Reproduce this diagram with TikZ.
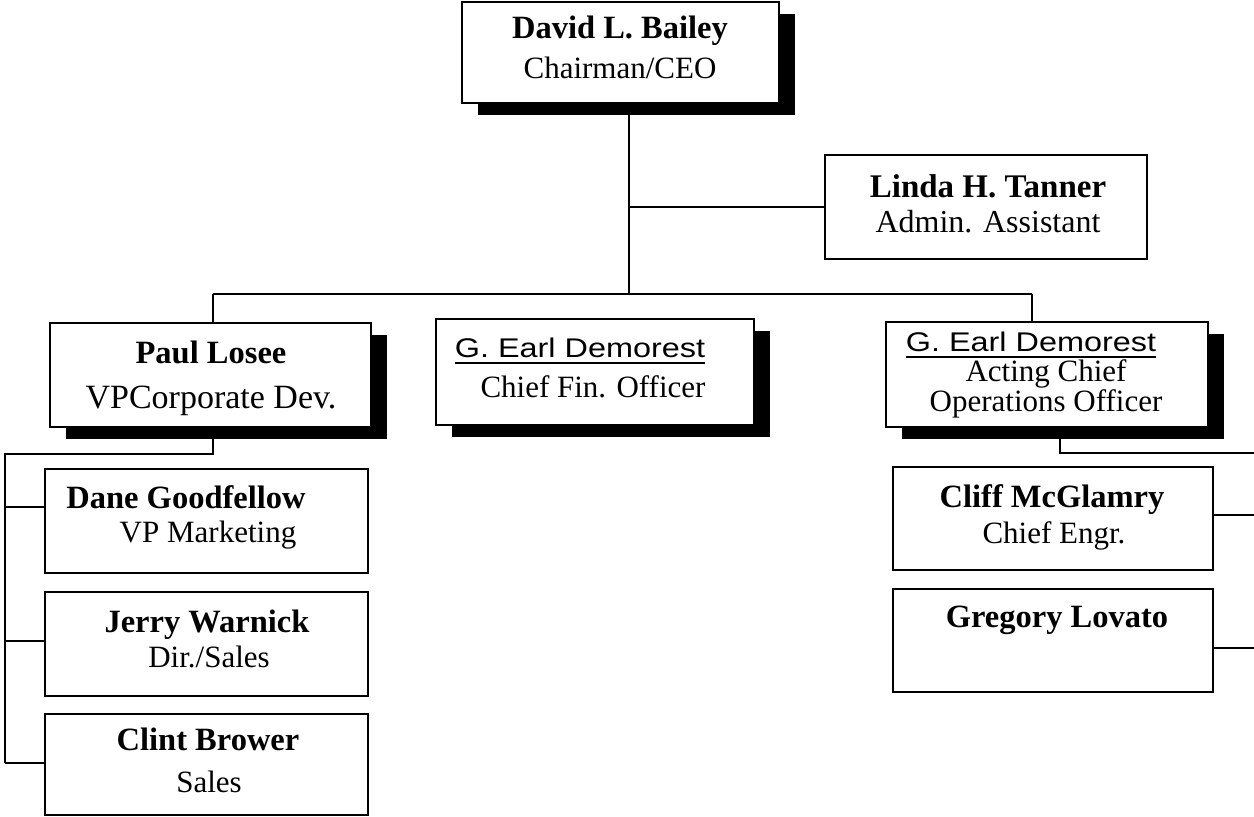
\documentclass[tikz,border=0pt]{standalone}
\usepackage{fontspec}
\usepackage{graphicx}
\setmainfont{Liberation Serif}
\newfontfamily\arialf{Liberation Sans}
\usetikzlibrary{shadows,backgrounds}
\begin{document}
\begin{tikzpicture}[x=1pt,y=-1pt,
  box/.style={draw=black, line width=1.3pt, fill=white, anchor=north west, inner sep=0pt, outer sep=0pt},
  shbox/.style={box, drop shadow={shadow xshift=16pt, shadow yshift=-12pt, fill=black, opacity=1}},
  nm/.style={anchor=base, inner sep=0pt, font=\fontsize{32.5}{32.5}\selectfont\bfseries},
  tl/.style={anchor=base, inner sep=0pt, font=\fontsize{31}{31}\selectfont},
  sn/.style={anchor=base, inner sep=0pt, font=\fontsize{27}{27}\selectfont\arialf},
  wire/.style={line width=1.3pt}]
\useasboundingbox (0,0) rectangle (1254,817);

% coordinates for connector bends and free ends
\coordinate (busL) at (213,294);
\coordinate (busR) at (1032,294);
\coordinate (busM) at (629,294);
\coordinate (pl) at (213,454);
\coordinate (lv) at (5,454);
\coordinate (dJ) at (5,507);
\coordinate (jJ) at (5,641);
\coordinate (cJ) at (5,763);
\coordinate (cr) at (1060,453);
\coordinate (re) at (1254,453);
\coordinate (ce) at (1254,515);
\coordinate (ge) at (1254,648);

% boxes
\node[shbox, minimum width=317pt, minimum height=101pt] (david) at (462,2) {};
\node[box, minimum width=322pt, minimum height=104pt] (linda) at (825,155) {};
\node[shbox, minimum width=321pt, minimum height=104pt] (paul) at (50,323) {};
\node[shbox, minimum width=318pt, minimum height=106pt] (cfo) at (436,319) {};
\node[shbox, minimum width=322pt, minimum height=105pt] (coo) at (886,322) {};
\node[box, minimum width=323pt, minimum height=104pt] (dane) at (45,469) {};
\node[box, minimum width=323pt, minimum height=104pt] (jerry) at (45,592) {};
\node[box, minimum width=323pt, minimum height=101pt] (clint) at (45,714) {};
\node[box, minimum width=320pt, minimum height=103pt] (cliff) at (893,467) {};
\node[box, minimum width=320pt, minimum height=103pt] (greg) at (893,589) {};

% connectors, behind the boxes
\begin{scope}[on background layer]
\fill[white] (0,0) rectangle (1254,817);
\draw[wire] (david.south -| busM) -- (busM);
\draw[wire] (linda.west -| busM) -- (linda.west);
\draw[wire] (busL) -- (busR);
\draw[wire] (busL) -- (paul.north -| busL);
\draw[wire] (busR) -- (coo.north -| busR);
\draw[wire] (paul.south -| pl) -- (pl) -- (lv) -- (cJ);
\draw[wire] (dJ) -- (dJ -| dane.west);
\draw[wire] (jJ) -- (jJ -| jerry.west);
\draw[wire] (cJ) -- (cJ -| clint.west);
\draw[wire] (coo.south -| cr) -- (cr) -- (re);
\draw[wire] (ce -| cliff.east) -- (ce);
\draw[wire] (ge -| greg.east) -- (ge);
\end{scope}

% texts
\node[nm] (davidN) at (620,38) {David L. Bailey};
\node[tl] (davidT) at (620,78) {Chairman/CEO};
\node[nm, font=\fontsize{33}{33}\selectfont\bfseries] (lindaN) at (988,197) {Linda H. Tanner};
\node[tl, font=\fontsize{32}{32}\selectfont] (lindaT) at (988,232) {Admin. Assistant};
\node[nm] (paulN) at (211,363) {Paul Losee};
\node[tl, font=\fontsize{34}{34}\selectfont] (paulT) at (211,408) {VPCorporate Dev.};
\node[sn] (cfoN) at (580,357) {\scalebox{1.2}[1]{G. Earl Demorest}};
\draw[line width=1.8pt] ([yshift=-6pt]cfoN.base west) -- ([yshift=-6pt]cfoN.base east);
\node[tl] (cfoT) at (593,397) {Chief Fin. Officer};
\node[sn] (cooN) at (1031,351) {\scalebox{1.2}[1]{G. Earl Demorest}};
\draw[line width=1.8pt] ([yshift=-6pt]cooN.base west) -- ([yshift=-6pt]cooN.base east);
\node[tl, align=center, font=\fontsize{31}{25}\selectfont] (cooT) at (1046,411) {Acting Chief\\Operations Officer};
\node[nm] (daneN) at (186,508) {Dane Goodfellow};
\node[tl] (daneT) at (208,542) {VP Marketing};
\node[nm] (jerryN) at (207,632) {Jerry Warnick};
\node[tl] (jerryT) at (209,667) {Dir./Sales};
\node[nm] (clintN) at (208,750) {Clint Brower};
\node[tl] (clintT) at (209,792) {Sales};
\node[nm] (cliffN) at (1052,507) {Cliff McGlamry};
\node[tl] (cliffT) at (1054,543) {Chief Engr.};
\node[nm] (gregN) at (1057,627) {Gregory Lovato};
\end{tikzpicture}
\end{document}
